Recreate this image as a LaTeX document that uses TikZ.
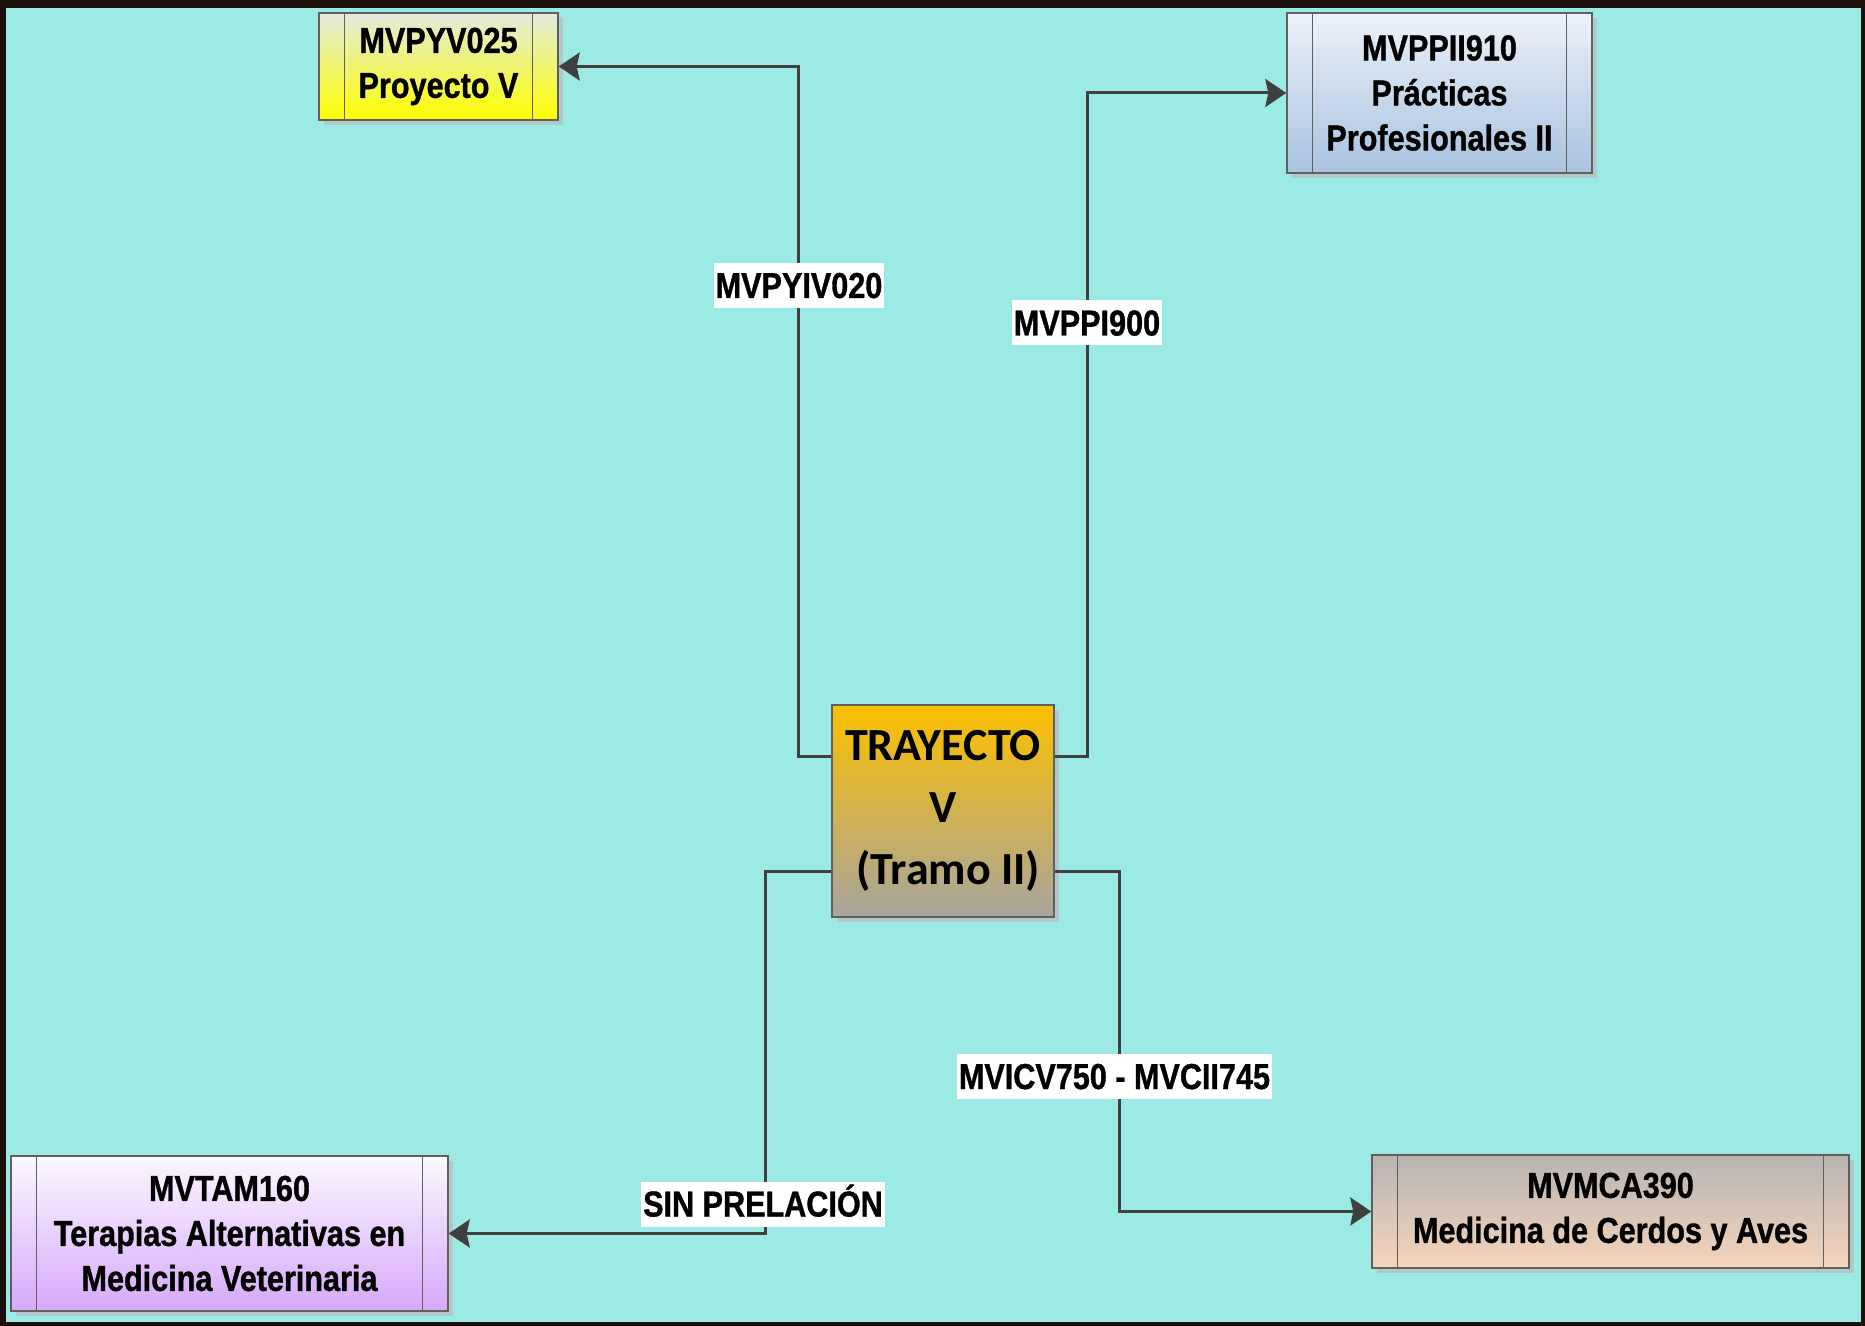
\documentclass[tikz,border=0pt]{standalone}
\usepackage{fontspec}
\newfontfamily\narrowfont{Liberation Sans}[FakeStretch=0.85, BoldFeatures={FakeBold=1}]
\newfontfamily\calfont{Carlito}
\usetikzlibrary{arrows.meta,shadows,calc}
\definecolor{bgcyan}{RGB}{156,234,230}
\definecolor{outerdark}{RGB}{28,16,12}
\definecolor{edgegrey}{RGB}{64,64,64}
\definecolor{boxline}{RGB}{95,95,95}
\definecolor{shadowc}{RGB}{176,200,200}
\begin{document}
\begin{tikzpicture}[x=0.5pt,y=-0.5pt,
  proc/.style={draw=boxline, line width=0.7pt, align=center, inner sep=0pt,
    font=\narrowfont\bfseries\fontsize{18}{22.5}\selectfont,
    drop shadow={shadow xshift=2.5pt, shadow yshift=-2.5pt, fill=shadowc, opacity=1}},
  strip/.style={draw=boxline, line width=0.7pt},
  conn/.style={draw=edgegrey, line width=1.5pt,
    -{Stealth[length=10.5pt,width=14pt,inset=1.5pt]}},
  lab/.style={fill=white, inner xsep=1pt, inner ysep=4.5pt, text height=13pt, text depth=0.5pt,
    font=\narrowfont\bfseries\fontsize{18}{22.5}\selectfont}]
\useasboundingbox (0,0) rectangle (1865,1326);
\fill[outerdark] (0,0) rectangle (1865,1326);
\fill[bgcyan] (6,8) rectangle (1861,1322);

% nodes
\node[proc, minimum width=119.5pt, minimum height=53.5pt,
  top color={rgb,255:red,226;green,234;blue,222}, bottom color={rgb,255:red,255;green,255;blue,0}]
  (PV) at (438.5,66.5) {MVPYV025\\Proyecto V};
\node[proc, minimum width=152.5pt, minimum height=80pt,
  top color={rgb,255:red,236;green,242;blue,250}, bottom color={rgb,255:red,168;green,194;blue,224}]
  (PP) at (1439.5,93) {MVPPII910\\Prácticas\\Profesionales II};
\node[proc, minimum width=111pt, minimum height=106pt,
  font=\calfont\bfseries\fontsize{23}{31}\selectfont,
  top color={rgb,255:red,252;green,192;blue,0}, bottom color={rgb,255:red,168;green,164;blue,158}]
  (TR) at (943,811) {TRAYECTO\\V\\\ (Tramo II)};
\node[proc, minimum width=218.5pt, minimum height=77.5pt,
  top color={rgb,255:red,252;green,248;blue,255}, bottom color={rgb,255:red,214;green,168;blue,250}]
  (TA) at (229.5,1233.5) {MVTAM160\\Terapias Alternativas en\\Medicina Veterinaria};
\node[proc, minimum width=238.5pt, minimum height=56.5pt,
  top color={rgb,255:red,184;green,180;blue,176}, bottom color={rgb,255:red,246;green,212;blue,188}]
  (MC) at (1610.5,1211.5) {MVMCA390\\Medicina de Cerdos y Aves};

% side strips
\foreach \n in {PV,PP,TA,MC}{
  \draw[strip] ([xshift=13pt]\n.north west) -- ([xshift=13pt]\n.south west);
  \draw[strip] ([xshift=-13pt]\n.north east) -- ([xshift=-13pt]\n.south east);
}

% connectors
\draw[conn] ([yshift=27.5pt]TR.west) -- ++(-33,0) |- (PV.east);
\draw[conn] ([yshift=27.5pt]TR.east) -- ++(33,0) |- (PP.west);
\draw[conn] ([yshift=-30pt]TR.west) -- ++(-66,0) |- (TA.east);
\draw[conn] ([yshift=-30pt]TR.east) -- ++(65,0) |- (MC.west);

% labels
\node[lab] (L1) at (799,285.5) {MVPYIV020};
\node[lab] (L2) at (1087,323) {MVPPI900};
\node[lab] (L3) at (1114.5,1076.5) {MVICV750 - MVCII745};
\node[lab] (L4) at (763,1204) {SIN PRELACIÓN};
\end{tikzpicture}
\end{document}
